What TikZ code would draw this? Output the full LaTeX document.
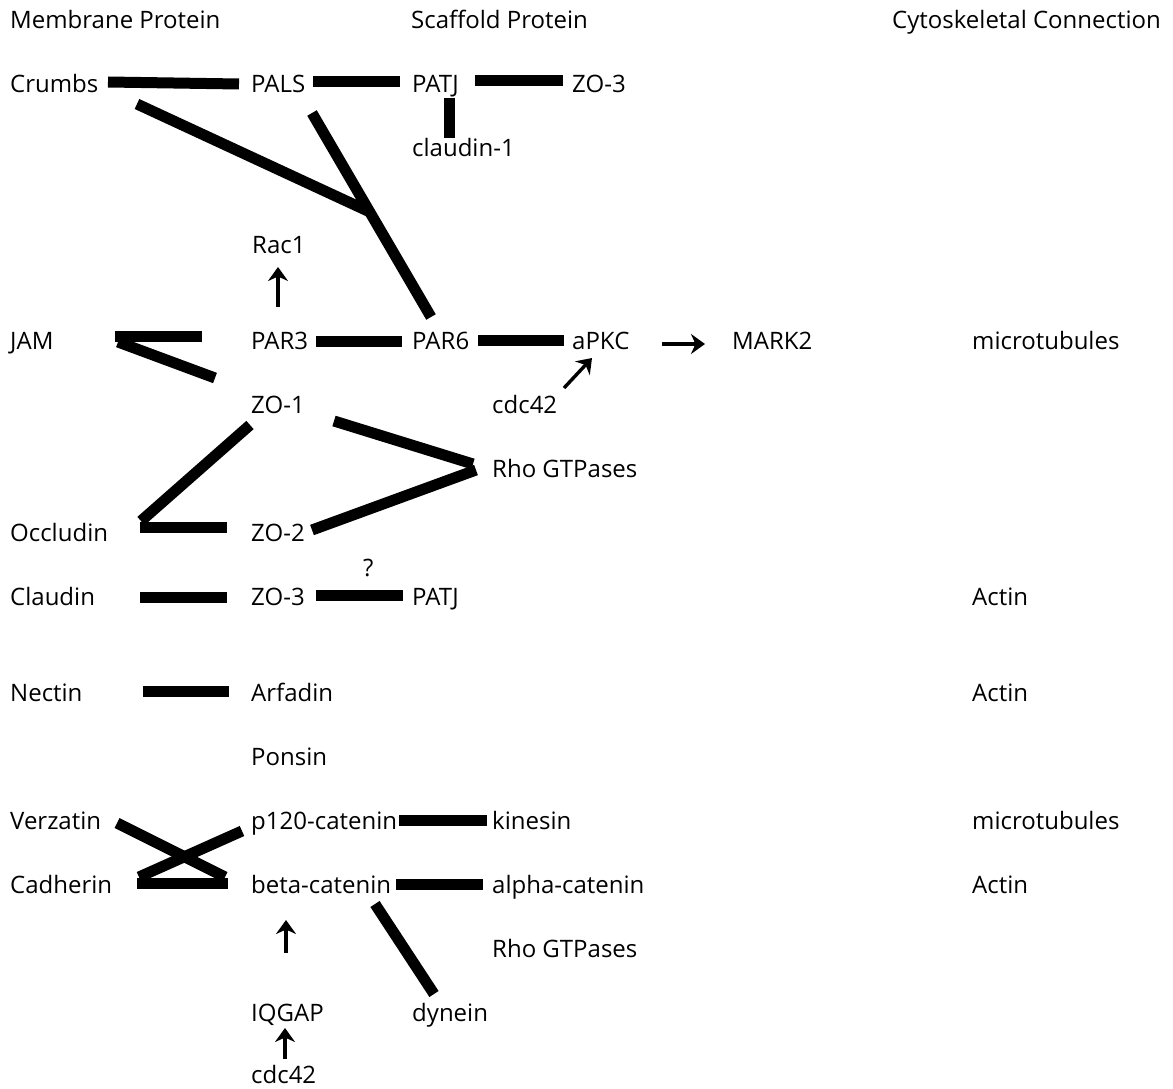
\documentclass[tikz,border=0pt]{standalone}
\usepackage{fontspec}
\setmainfont{Open Sans}
\usetikzlibrary{arrows.meta}
\begin{document}
\begin{tikzpicture}[x=1pt,y=-1pt,
  lbl/.style={anchor=base west,inner sep=0pt,font=\fontsize{24}{28}\selectfont},
  bond/.style={line width=11pt},
  act/.style={line width=3.4pt,-{Stealth[length=14pt,width=20pt,inset=4.5pt]}}]
\useasboundingbox[fill=white] (0,0) rectangle (1173,1089);
% headers
\node[lbl] (hMem) at (10,29) {Membrane Protein};
\node[lbl] (hSca) at (411,29) {Scaffold Protein};
\node[lbl] (hCyt) at (892,29) {Cytoskeletal Connection};
% labels
\node[lbl] (Crumbs) at (10,93) {Crumbs};
\node[lbl] (PALS) at (251,93) {PALS};
\node[lbl] (PATJa) at (412,93) {PATJ};
\node[lbl] (ZOthreeA) at (572,93) {ZO-3};
\node[lbl] (claudinOne) at (412,157) {claudin-1};
\node[lbl] (Rac) at (252,253) {Rac1};
\node[lbl] (JAM) at (10,349) {JAM};
\node[lbl] (PARthree) at (251,349) {PAR3};
\node[lbl] (PARsix) at (412,349) {PAR6};
\node[lbl] (aPKC) at (572,349) {aPKC};
\node[lbl] (MARK) at (732,349) {MARK2};
\node[lbl] (mtA) at (972,349) {microtubules};
\node[lbl] (ZOone) at (251,413) {ZO-1};
\node[lbl] (cdcA) at (492,413) {cdc42};
\node[lbl] (RhoA) at (492,477) {Rho GTPases};
\node[lbl] (Occludin) at (10,541) {Occludin};
\node[lbl] (ZOtwo) at (251,541) {ZO-2};
\node[lbl] (qm) at (363,576) {?};
\node[lbl] (Claudin) at (10,605) {Claudin};
\node[lbl] (ZOthreeB) at (251,605) {ZO-3};
\node[lbl] (PATJb) at (412,605) {PATJ};
\node[lbl] (ActinA) at (972,605) {Actin};
\node[lbl] (Nectin) at (10,701) {Nectin};
\node[lbl] (Arfadin) at (251,701) {Arfadin};
\node[lbl] (ActinB) at (972,701) {Actin};
\node[lbl] (Ponsin) at (251,765) {Ponsin};
\node[lbl] (Verzatin) at (10,829) {Verzatin};
\node[lbl] (ptwenty) at (251,829) {p120-catenin};
\node[lbl] (kinesin) at (492,829) {kinesin};
\node[lbl] (mtB) at (972,829) {microtubules};
\node[lbl] (Cadherin) at (10,893) {Cadherin};
\node[lbl] (beta) at (251,893) {beta-catenin};
\node[lbl] (alpha) at (492,893) {alpha-catenin};
\node[lbl] (ActinC) at (972,893) {Actin};
\node[lbl] (RhoB) at (492,957) {Rho GTPases};
\node[lbl] (IQGAP) at (251,1021) {IQGAP};
\node[lbl] (dynein) at (412,1021) {dynein};
\node[lbl] (cdcB) at (251,1083) {cdc42};
% bonds
\draw[bond] ([shift={(98,-11)}]Crumbs.base west) -- ([shift={(-12,-9)}]PALS.base west);
\draw[bond] ([shift={(62,-11.5)}]PALS.base west) -- ([shift={(-12,-11.5)}]PATJa.base west);
\draw[bond] ([shift={(63,-12)}]PATJa.base west) -- ([shift={(-9,-12)}]ZOthreeA.base west);
\draw[bond] ([shift={(37,5)}]PATJa.base west) -- ([shift={(37,-19)}]claudinOne.base west);
\draw[bond] ([shift={(127,11)}]Crumbs.base west) -- ([shift={(-42,-137)}]PARsix.base west);
\draw[bond] ([shift={(61,20)}]PALS.base west) -- ([shift={(19,-32)}]PARsix.base west);
\draw[bond] ([shift={(65,-8)}]PARthree.base west) -- ([shift={(-10,-8)}]PARsix.base west);
\draw[bond] ([shift={(66,-8.5)}]PARsix.base west) -- ([shift={(-8,-8.5)}]aPKC.base west);
\draw[bond] ([shift={(105,-12.5)}]JAM.base west) -- ([shift={(-49,-12.5)}]PARthree.base west);
\draw[bond] ([shift={(108,-7)}]JAM.base west) -- ([shift={(-36,-35)}]ZOone.base west);
\draw[bond] ([shift={(131,-20)}]Occludin.base west) -- ([shift={(-1,12)}]ZOone.base west);
\draw[bond] ([shift={(130,-14)}]Occludin.base west) -- ([shift={(-24,-14)}]ZOtwo.base west);
\draw[bond] ([shift={(83,8)}]ZOone.base west) -- ([shift={(-19,-13)}]RhoA.base west);
\draw[bond] ([shift={(61,-11)}]ZOtwo.base west) -- ([shift={(-16,-7)}]RhoA.base west);
\draw[bond] ([shift={(130,-8)}]Claudin.base west) -- ([shift={(-24,-8)}]ZOthreeB.base west);
\draw[bond] ([shift={(65,-10)}]ZOthreeB.base west) -- ([shift={(-9,-10)}]PATJb.base west);
\draw[bond] ([shift={(133,-9.5)}]Nectin.base west) -- ([shift={(-22,-9.5)}]Arfadin.base west);
\draw[bond] ([shift={(148,-9)}]ptwenty.base west) -- ([shift={(-5,-9)}]kinesin.base west);
\draw[bond] ([shift={(145,-9)}]beta.base west) -- ([shift={(-9,-9)}]alpha.base west);
\draw[bond] ([shift={(124,11)}]beta.base west) -- ([shift={(22,-27)}]dynein.base west);
\draw[bond] ([shift={(107,-6)}]Verzatin.base west) -- ([shift={(-26,-16)}]beta.base west);
\draw[bond] ([shift={(-9,2)}]ptwenty.base west) -- ([shift={(129,-16)}]Cadherin.base west);
\draw[bond] ([shift={(127,-10)}]Cadherin.base west) -- ([shift={(-23,-10)}]beta.base west);
% activations
\draw[act] ([shift={(27,-42)}]PARthree.base west) -- ([shift={(26,14)}]Rac.base west);
\draw[act] ([shift={(90,-5)}]aPKC.base west) -- ([shift={(-27,-5)}]MARK.base west);
\draw[act] ([shift={(72,-25)}]cdcA.base west) -- ([shift={(20,9)}]aPKC.base west);
\draw[act] ([shift={(35,-68)}]IQGAP.base west) -- ([shift={(35,27)}]beta.base west);
\draw[act] ([shift={(34,-24)}]cdcB.base west) -- ([shift={(34,7)}]IQGAP.base west);
\end{tikzpicture}
\end{document}
